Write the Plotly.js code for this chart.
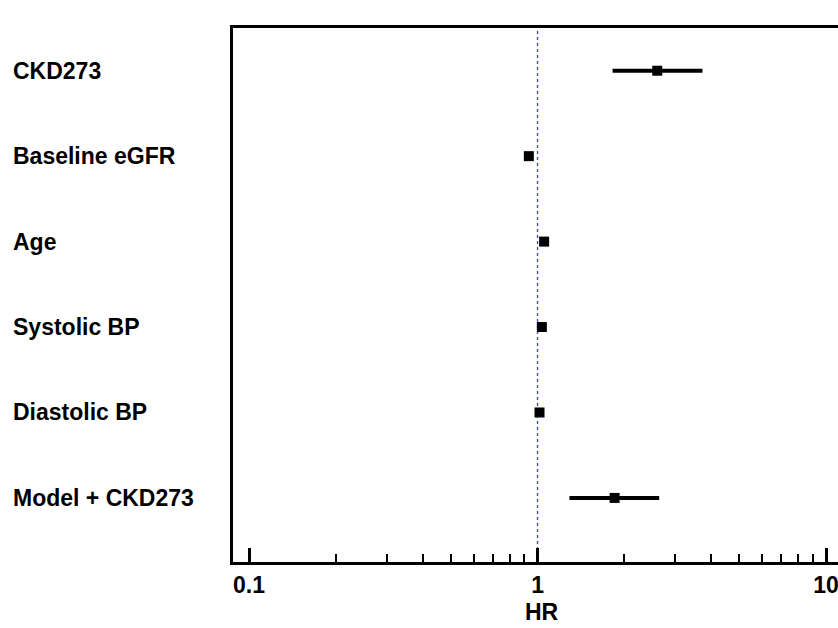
<!DOCTYPE html>
<html>
<head>
<meta charset="utf-8">
<script src="https://cdn.plot.ly/plotly-3.0.1.min.js"></script>
<style>
html,body{margin:0;padding:0;overflow:hidden;background:#fff;}
#chart{width:880px;height:628px;}
</style>
</head>
<body>
<div id="chart"></div>
<script>
const categories = ["CKD273", "Baseline eGFR", "Age", "Systolic BP", "Diastolic BP", "Model + CKD273"];
const hr       = [2.60, 0.933, 1.054, 1.035, 1.016, 1.85];
const ciLow    = [1.82, 0.915, 1.040, 1.022, 1.005, 1.29];
const ciHigh   = [3.73, 0.952, 1.068, 1.048, 1.028, 2.64];
const majorTicks = [0.1, 1, 10];
const majorTickText = ["0.1", "1", "10"];
const minorTicks = [0.2,0.3,0.4,0.5,0.6,0.7,0.8,0.9,2,3,4,5,6,7,8,9];

const yIdx = categories.map((c, i) => i);

const trace = {
  type: 'scatter',
  mode: 'markers',
  x: hr,
  y: yIdx,
  marker: {symbol: 'square', size: 10, color: '#000'},
  error_x: {
    type: 'data',
    symmetric: false,
    array: hr.map((v, i) => ciHigh[i] - v),
    arrayminus: hr.map((v, i) => v - ciLow[i]),
    thickness: 4,
    width: 0,
    color: '#000'
  },
  hoverinfo: 'skip',
  showlegend: false
};

const labelFont = {family: 'Liberation Sans, Arial, sans-serif', size: 23, color: '#000', weight: 'bold'};
const tickFont = {family: 'Liberation Sans, Arial, sans-serif', size: 23, color: '#000', weight: 'bold'};

const annotations = categories.map((c, i) => ({
  xref: 'paper', yref: 'y',
  x: (11 - 233) / 617, y: i,
  xanchor: 'left', yanchor: 'middle',
  text: c, showarrow: false,
  font: labelFont
}));

const layout = {
  width: 880, height: 628,
  margin: {l: 233, r: 30, t: 28, b: 66},
  paper_bgcolor: '#fff', plot_bgcolor: '#fff',
  xaxis: {
    type: 'log',
    range: [-1.0555, 1.083],
    tickvals: majorTicks,
    ticktext: majorTickText,
    ticks: 'inside', ticklen: 14, tickwidth: 3, tickcolor: '#000',
    minor: {tickvals: minorTicks, ticks: 'inside', ticklen: 8, tickwidth: 2, tickcolor: '#000'},
    showline: true, linewidth: 3, linecolor: '#000', mirror: true,
    showgrid: false, zeroline: false,
    tickfont: tickFont,
    ticklabelstandoff: 0,
    title: {text: 'HR', font: tickFont, standoff: 8}
  },
  yaxis: {
    range: [5.75, -0.5],
    showticklabels: false, ticks: '',
    showline: true, linewidth: 3, linecolor: '#000', mirror: true,
    showgrid: false, zeroline: false
  },
  shapes: [{
    type: 'line', xref: 'x', yref: 'paper',
    x0: 1, x1: 1, y0: 0, y1: 1,
    line: {color: '#3b3bff', width: 1.3, dash: 'dot'},
    layer: 'below'
  }],
  annotations: annotations
};

Plotly.newPlot('chart', [trace], layout, {displayModeBar: false, staticPlot: true});
</script>
</body>
</html>
